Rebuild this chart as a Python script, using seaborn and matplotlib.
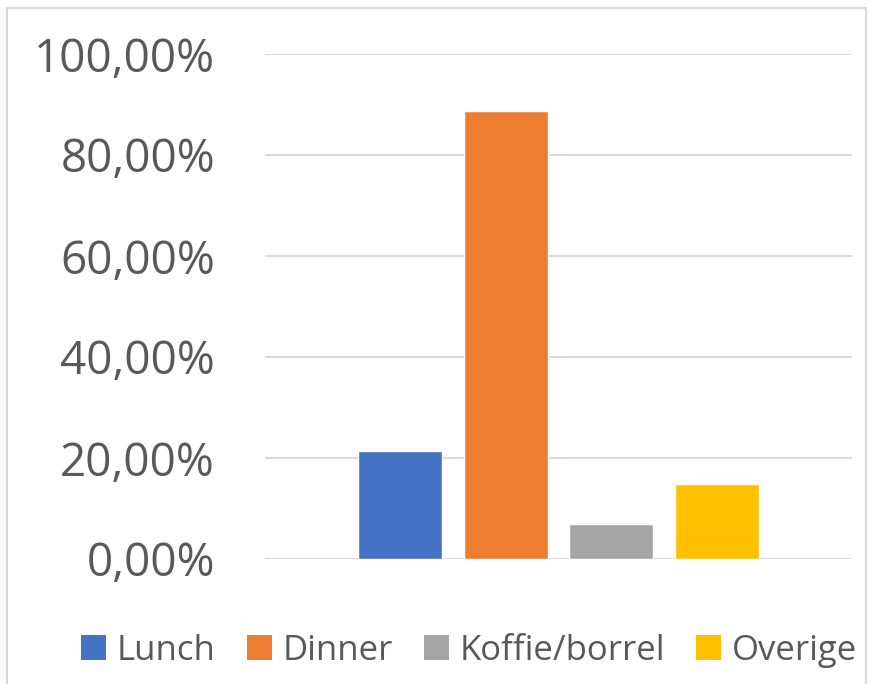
import matplotlib
matplotlib.use("Agg")
import matplotlib.pyplot as plt
import seaborn as sns
import pandas as pd
from matplotlib.patches import Rectangle, Patch
from matplotlib.ticker import FuncFormatter

categories = ["Lunch", "Dinner", "Koffie/borrel", "Overige"]
values = [0.213, 0.888, 0.069, 0.149]
colors = ["#4472C4", "#ED7D31", "#A5A5A5", "#FFC000"]
yticks = [0.0, 0.2, 0.4, 0.6, 0.8, 1.0]

sns.set_theme(style="white")
plt.rcParams["font.family"] = ["Open Sans", "DejaVu Sans"]

df = pd.DataFrame({"cat": categories, "val": values})

fig = plt.figure(figsize=(8.71, 6.84), dpi=100)
ax = fig.add_axes([265/871, 1-559/684, 587/871, 505/684])

sns.barplot(data=df, x="cat", y="val", hue="cat", palette=colors,
            width=84/106, ax=ax, legend=False, saturation=1)

ax.set_xlim(-1.27, 4.27)
ax.set_ylim(0, 1.0)
ax.set_yticks(yticks)
ax.yaxis.set_major_formatter(FuncFormatter(lambda v, p: f"{v*100:.2f}%".replace(".", ",")))
ax.set_xticks([])
ax.set_xlabel("")
ax.set_ylabel("")
ax.tick_params(axis="y", length=0, labelsize=33, labelcolor="#595959", pad=36)
for s in ax.spines.values():
    s.set_visible(False)
ax.grid(axis="y", color="#D9D9D9", linewidth=1.5)
ax.set_axisbelow(True)

handles = [Patch(facecolor=c, edgecolor="none") for c in colors]
fig.legend(handles, categories, loc="center", bbox_to_anchor=(469/871, 1-651/684),
           ncol=4, frameon=False, fontsize=25, labelcolor="#595959",
           handlelength=0.72, handleheight=0.72, handletextpad=0.3, columnspacing=0.9)

fig.patches.append(Rectangle((7/871, -0.01), (866-7)/871, (684-8)/684 + 0.01,
                             transform=fig.transFigure, fill=False,
                             edgecolor="#D9D9D9", linewidth=1.5))

fig.savefig("out.png", dpi=100)
